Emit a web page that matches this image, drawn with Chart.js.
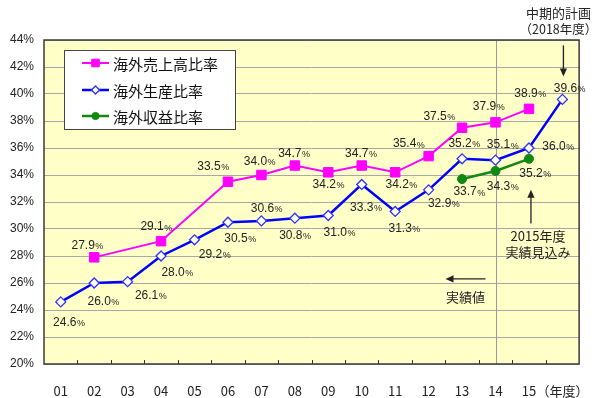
<!DOCTYPE html>
<html lang="ja">
<head>
<meta charset="utf-8">
<title>海外売上高比率・海外生産比率・海外収益比率</title>
<script src="https://cdn.jsdelivr.net/npm/chart.js@4.4.0/dist/chart.umd.min.js"></script>
<style>
  html, body { margin: 0; padding: 0; background: #fff; }
  #wrap { width: 600px; height: 398px; }
</style>
</head>
<body>
<div id="wrap"><canvas id="ratioChart" width="600" height="398"></canvas></div>
<script>
const years = ["01", "02", "03", "04", "05", "06", "07", "08", "09", "10", "11", "12", "13", "14", "15", "（年度）"];

const salesRatio = [null, 27.9, null, 29.1, null, 33.5, 34.0, 34.7, 34.2, 34.7, 34.2, 35.4, 37.5, 37.9, 38.9, null];
const productionRatio = [24.6, 26.0, 26.1, 28.0, 29.2, 30.5, 30.6, 30.8, 31.0, 33.3, 31.3, 32.9, 35.2, 35.1, 36.0, 39.6];
const profitRatio = [null, null, null, null, null, null, null, null, null, null, null, null, 33.7, 34.3, 35.2, null];

const seriesNames = ["海外売上高比率", "海外生産比率", "海外収益比率"];

// where each value label sits relative to its point (dx, dy in px)
const salesLabelPos = [null, [-7, -12], null, [-5, -14], null, [-15, -15], [-2, -13], [-1, -12], [0, 12], [-1, -12], [6, 12], [-20, -12], [-23, -11], [-7, -16], [1, -15], null];
const productionLabelPos = [[8, 21], [9, 19], [23, 14], [16, 17], [20, 15], [12, 16], [5, -12], [0, 17], [11, 17], [4, 23], [9, 17], [15, 14], [2, -15], [7, -15], [29, -1], [7, -11]];
const profitLabelPos = [null, null, null, null, null, null, null, null, null, null, null, null, [7, 13], [7, 16], [6, 15], null];

const FONT = '"Liberation Sans", Arial, "Noto Sans CJK JP", sans-serif';
const JP_FONT = '"Noto Sans CJK JP", "Liberation Sans", sans-serif';
Chart.defaults.font.family = FONT;
Chart.defaults.color = "#222";

function drawArrow(ctx, x1, y1, x2, y2, head) {
  const ang = Math.atan2(y2 - y1, x2 - x1);
  const c = Math.cos(ang), s = Math.sin(ang);
  ctx.beginPath();
  ctx.moveTo(x1, y1);
  ctx.lineTo(x2 - head * 0.8 * c, y2 - head * 0.8 * s);
  ctx.stroke();
  ctx.beginPath();
  ctx.moveTo(x2, y2);
  ctx.lineTo(x2 - head * c + head * 0.45 * s, y2 - head * s - head * 0.45 * c);
  ctx.lineTo(x2 - head * c - head * 0.45 * s, y2 - head * s + head * 0.45 * c);
  ctx.closePath();
  ctx.fill();
}

const plotFramePlugin = {
  id: "plotFrame",
  beforeDraw(chart) {
    const { ctx, chartArea: a } = chart;
    ctx.save();
    ctx.fillStyle = "#ffffc8";
    ctx.fillRect(a.left, a.top, a.right - a.left, a.bottom - a.top);
    ctx.restore();
  },
  beforeDatasetsDraw(chart) {
    const { ctx, chartArea: a, scales: { x } } = chart;
    ctx.save();
    // divider between results and plan
    const xd = Math.round(x.getPixelForValue(13)) + 0.5;
    ctx.strokeStyle = "#9a9a9a";
    ctx.lineWidth = 1;
    ctx.beginPath();
    ctx.moveTo(xd, a.top);
    ctx.lineTo(xd, a.bottom);
    ctx.stroke();

    // small inner ticks at category boundaries
    ctx.strokeStyle = "#333";
    ctx.beginPath();
    for (let i = 1; i < years.length; i++) {
      const xb = Math.round((x.getPixelForValue(i - 1) + x.getPixelForValue(i)) / 2) + 0.5;
      ctx.moveTo(xb, a.bottom - 4);
      ctx.lineTo(xb, a.bottom);
    }
    ctx.stroke();

    // frame
    ctx.strokeStyle = "#3a3a3a";
    ctx.lineWidth = 1.5;
    ctx.strokeRect(a.left, a.top, a.right - a.left, a.bottom - a.top);
    ctx.restore();
  }
};

const valueLabelPlugin = {
  id: "valueLabels",
  afterDatasetsDraw(chart) {
    const { ctx } = chart;
    ctx.save();
    ctx.fillStyle = "#222";
    ctx.textBaseline = "middle";
    chart.data.datasets.forEach((ds, di) => {
      const meta = chart.getDatasetMeta(di);
      ds.data.forEach((v, i) => {
        if (v === null || !ds.labelPos[i]) return;
        const pt = meta.data[i];
        const [dx, dy] = ds.labelPos[i];
        const num = v.toFixed(1);
        ctx.font = "12px " + FONT;
        const wn = ctx.measureText(num).width;
        ctx.font = "9px " + FONT;
        const wp = ctx.measureText("%").width;
        const x0 = pt.x + dx - (wn + wp) / 2;
        const yc = pt.y + dy;
        ctx.textAlign = "left";
        ctx.font = "12px " + FONT;
        ctx.fillText(num, x0, yc);
        ctx.font = "9px " + FONT;
        ctx.fillText("%", x0 + wn + 0.5, yc + 1);
      });
    });
    ctx.restore();
  }
};

const notesPlugin = {
  id: "notes",
  afterDraw(chart) {
    const { ctx, chartArea: a, scales: { x, y } } = chart;
    ctx.save();
    ctx.fillStyle = "#222";
    ctx.strokeStyle = "#222";
    ctx.lineWidth = 1.3;
    ctx.textAlign = "center";
    ctx.textBaseline = "middle";

    // mid-term plan (FY2018)
    const xPlan = x.getPixelForValue(15);
    ctx.font = "13px " + JP_FONT;
    ctx.fillText("中期的計画", xPlan - 4, a.top - 27);
    ctx.font = "12.5px " + JP_FONT;
    ctx.fillText("（2018年度）", xPlan - 4, a.top - 11);
    drawArrow(ctx, xPlan + 1, y.getPixelForValue(43.6), xPlan + 1, y.getPixelForValue(41.3), 8);

    // FY2015 forecast
    const x15 = x.getPixelForValue(14);
    drawArrow(ctx, x15 + 2, y.getPixelForValue(30.4), x15 + 2, y.getPixelForValue(32.9), 8);
    ctx.font = "13px " + JP_FONT;
    ctx.fillText("2015年度", x15 + 9, y.getPixelForValue(29.5));
    ctx.fillText("実績見込み", x15 + 9, y.getPixelForValue(28.3));

    // actuals
    const x14 = x.getPixelForValue(13);
    const ya = y.getPixelForValue(26.3);
    drawArrow(ctx, x14 - 10, ya, x14 - 50, ya, 8);
    ctx.fillText("実績値", x14 - 30, y.getPixelForValue(24.95));

    // legend box
    const lx = a.left + 20, ly = a.top + 10;
    ctx.fillStyle = "#fff";
    ctx.fillRect(lx, ly, 171, 79);
    ctx.strokeStyle = "#444";
    ctx.lineWidth = 1;
    ctx.strokeRect(lx + 0.5, ly + 0.5, 171, 79);
    const rowY = [13, 40, 66];
    chart.data.datasets.forEach((ds, di) => {
      const yy = ly + rowY[di];
      ctx.strokeStyle = ds.borderColor;
      ctx.lineWidth = ds.borderWidth;
      ctx.beginPath();
      ctx.moveTo(lx + 18, yy);
      ctx.lineTo(lx + 45, yy);
      ctx.stroke();
      ctx.fillStyle = ds.pointBackgroundColor;
      ctx.strokeStyle = ds.pointBorderColor;
      ctx.lineWidth = ds.pointBorderWidth;
      Chart.helpers.drawPoint(ctx, {
        pointStyle: ds.pointStyle,
        radius: ds.pointRadius * 0.8,
        borderWidth: ds.pointBorderWidth,
        rotation: 0
      }, lx + 31.5, yy);
      ctx.fillStyle = "#111";
      ctx.textAlign = "left";
      ctx.font = "15px " + JP_FONT;
      ctx.fillText(ds.label, lx + 49, yy + 1);
    });
    ctx.restore();
  }
};

new Chart(document.getElementById("ratioChart"), {
  type: "line",
  data: {
    labels: years,
    datasets: [
      {
        label: seriesNames[0],
        data: salesRatio,
        labelPos: salesLabelPos,
        borderColor: "#ff00ff",
        borderWidth: 2,
        pointStyle: "rect",
        pointRadius: 6.7,
        pointBackgroundColor: "#ff00ff",
        pointBorderColor: "#ff00ff",
        pointBorderWidth: 1,
        spanGaps: true,
        tension: 0
      },
      {
        label: seriesNames[1],
        data: productionRatio,
        labelPos: productionLabelPos,
        borderColor: "#0000ff",
        borderWidth: 2.5,
        pointStyle: "rectRot",
        pointRadius: 5,
        pointBackgroundColor: "#ffffff",
        pointBorderColor: "#3030ff",
        pointBorderWidth: 1.3,
        tension: 0
      },
      {
        label: seriesNames[2],
        data: profitRatio,
        labelPos: profitLabelPos,
        borderColor: "#118811",
        borderWidth: 2.5,
        pointStyle: "circle",
        pointRadius: 4.5,
        pointBackgroundColor: "#118811",
        pointBorderColor: "#118811",
        pointBorderWidth: 1,
        tension: 0
      }
    ]
  },
  options: {
    responsive: false,
    animation: false,
    devicePixelRatio: 1,
    layout: { padding: { top: 40, right: 19, left: 0, bottom: 0 } },
    plugins: {
      legend: { display: false },
      tooltip: { enabled: false }
    },
    scales: {
      x: {
        type: "category",
        offset: true,
        grid: { display: false },
        border: { display: false },
        ticks: {
          autoSkip: false,
          maxRotation: 0,
          minRotation: 0,
          padding: 11,
          color: "#222",
          font: { size: 13, family: JP_FONT }
        },
        afterFit(scale) { scale.height = 34; }
      },
      y: {
        min: 20,
        max: 44,
        grid: { color: "#a8a8a8", lineWidth: 1, drawTicks: false },
        border: { display: false },
        ticks: {
          stepSize: 2,
          padding: 10,
          color: "#222",
          font: { size: 12 },
          callback: v => v + "%"
        },
        afterFit(scale) { scale.width = 44; }
      }
    }
  },
  plugins: [plotFramePlugin, valueLabelPlugin, notesPlugin]
});
</script>
</body>
</html>
